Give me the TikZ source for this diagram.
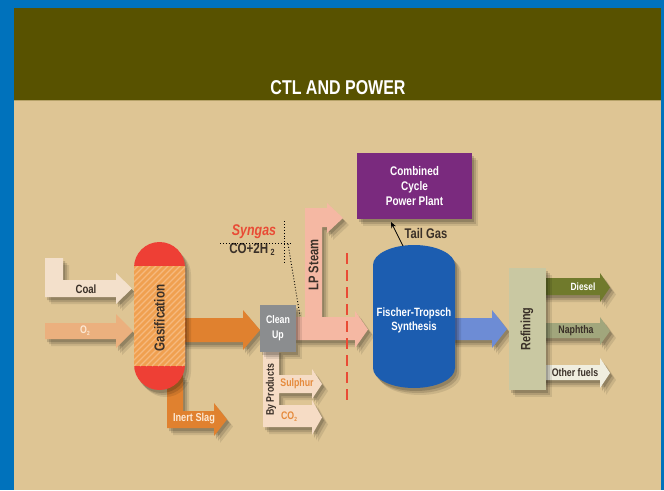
\documentclass[tikz,border=0pt]{standalone}
\usepackage{fontspec}
\setmainfont{Liberation Sans}[FakeStretch=0.8]
\usetikzlibrary{shadows,arrows.meta}
\definecolor{frameblue}{HTML}{0072BC}
\definecolor{olive}{HTML}{585200}
\definecolor{beige}{HTML}{DEC594}
\definecolor{coalc}{HTML}{F3E0CB}
\definecolor{oxyc}{HTML}{EBB07E}
\definecolor{gasred}{HTML}{EE3F35}
\definecolor{gasorange}{HTML}{F0A050}
\definecolor{stripe}{HTML}{F6B97E}
\definecolor{orangearr}{HTML}{E0812F}
\definecolor{cleangray}{HTML}{8B8D8F}
\definecolor{pinkarr}{HTML}{F5B8A3}
\definecolor{byprod}{HTML}{F6DCC5}
\definecolor{bytext}{HTML}{E58A3C}
\definecolor{ccpp}{HTML}{7A2A7E}
\definecolor{ftblue}{HTML}{1C5DB0}
\definecolor{bluearr}{HTML}{6D8CD5}
\definecolor{refin}{HTML}{C9C8A2}
\definecolor{dieselc}{HTML}{707A2C}
\definecolor{naphc}{HTML}{A1A67C}
\definecolor{otherc}{HTML}{F0EEDF}
\definecolor{redline}{HTML}{E94B35}
\definecolor{darktext}{HTML}{3A3028}
\definecolor{creamtext}{HTML}{FCE8D3}
\newcommand\fs[1]{\fontsize{#1}{#1}\selectfont\bfseries}
\newcommand\fsl[2]{\fontsize{#1}{#2}\selectfont\bfseries}
\newcommand\hArrow[8]{\fill[#1,sh] (#2,#5) -- (#3,#5) -- (#3,#7) -- (#4,{(#7+#8)/2}) -- (#3,#8) -- (#3,#6) -- (#2,#6) -- cycle;}
\tikzset{
  sh/.style={drop shadow={opacity=.16,shadow xshift=2pt,shadow yshift=-3pt,fill=black},
             drop shadow={opacity=.13,shadow xshift=4pt,shadow yshift=-5pt,fill=black},
             drop shadow={opacity=.09,shadow xshift=6pt,shadow yshift=-7pt,fill=black}},
  lab/.style={inner sep=0pt,text=darktext},
  wlab/.style={inner sep=0pt,text=white,align=center},
  dots/.style={black,dotted,line width=0.9pt}
}
\begin{document}
\begin{tikzpicture}[x=1pt,y=-1pt]
\useasboundingbox (0,0) rectangle (664,490);
% frame and background
\fill[frameblue] (0,0) rectangle (664,490);
\fill[olive] (14,8) rectangle (661,100);
\fill[beige] (14,100) rectangle (661,490);
\draw[color=beige!70!olive,line width=1pt] (14,100) -- (661,100);
\node[wlab,font=\fs{20}] (title) at (338,87.5) {CTL AND POWER};

% input arrows
\fill[coalc,sh] (45,258) -- (63,258) -- (63,280) -- (116,280) -- (116,273) -- (132,288.5) -- (116,304) -- (116,297) -- (45,297) -- cycle;
\hArrow{oxyc}{45}{116}{133}{323}{339}{314}{348}
% gasification -> clean up
\hArrow{orangearr}{180}{243}{260}{318}{342}{310}{350}
% inert slag
\fill[orangearr,sh] (167,375) -- (183,375) -- (183,411) -- (214,411) -- (214,403) -- (227,419.5) -- (214,436) -- (214,428) -- (167,428) -- cycle;

% gasification vessel
\fill[gasred,sh,rounded corners=25.5pt] (134,242) rectangle (185,390);
\begin{scope}
  \clip (134,266) rectangle (185,366);
  \fill[gasorange] (134,266) rectangle (185,366);
  \foreach \i in {20,26,...,200} \draw[stripe,line width=1.3pt] (\i,366) -- ++(110,-110);
\end{scope}
\node[lab,rotate=90,font=\fs{14.5}] (gas) at (159.5,318) {Gasification};
\node[lab,font=\fs{12}] (coal) at (86,289) {Coal};
\node[lab,text=creamtext,font=\fs{11}] (oxy) at (85,331) {O\raisebox{-0.35ex}{\fontsize{6}{6}\selectfont 2}};
\node[lab,text=creamtext,font=\fs{11.5}] (slag) at (194,419) {Inert Slag};

% by products
\fill[byprod,sh] (263,350) -- (279,350) -- (279,375) -- (312,375) -- (312,369) -- (322,384) -- (312,399) -- (312,393) -- (279,393) -- (279,405) -- (312,405) -- (312,400) -- (322,417.5) -- (312,435) -- (312,427) -- (263,427) -- cycle;
\node[lab,rotate=90,font=\fs{11}] (byp) at (271,390) {By Products};
\node[lab,text=bytext,font=\fs{11}] (sulphur) at (297,384) {Sulphur};
\node[lab,text=bytext,font=\fs{11}] (co2) at (289,417) {CO\raisebox{-0.35ex}{\fontsize{6}{6}\selectfont 2}};

% pink syngas arrow and LP steam
\hArrow{pinkarr}{294}{355}{368}{317}{340}{311}{348}
\fill[pinkarr,sh] (305,318) -- (305,208) -- (327,208) -- (327,203) -- (343,218) -- (327,233) -- (327,227) -- (322,227) -- (322,318) -- cycle;
\fill[pinkarr] (300,317) rectangle (330,340);
\node[lab,rotate=90,font=\fs{14}] (lp) at (313.5,265) {LP Steam};

% clean up
\node[fill=cleangray,minimum width=36pt,minimum height=47pt,inner sep=0pt,sh] (clean) at (278,328.5) {};
\node[wlab,font=\fsl{11}{15}] (cleantext) at (clean.center) {Clean\\Up};

% syngas annotation
\node[lab,text=redline,font=\fontsize{15.5}{15.5}\selectfont\bfseries\itshape] (syngas) at (254,232) {Syngas};
\node[lab,font=\fs{14.5}] (co) at (252,249.5) {CO+2H\,\raisebox{-0.35ex}{\fontsize{9}{9}\selectfont 2}};
\coordinate (d1) at (220,243);
\coordinate (d2) at (290,243);
\coordinate (d3) at (284,221);
\coordinate (d4) at (284,264);
\coordinate (d5) at (288,244);
\coordinate (d6) at (300,316);
\draw[dots] (d1) -- (d2);
\draw[dots] (d3) -- (d4);
\draw[dots] (d5) -- (d6);

% red dashed line
\coordinate (r1) at (347,253);
\coordinate (r2) at (347,402);
\draw[redline,line width=2pt,dash pattern=on 11pt off 6pt] (r1) -- (r2);

% FT -> refining arrow
\hArrow{bluearr}{450}{492}{507}{318}{340}{310}{348}

% Fischer-Tropsch vessel
\fill[ftblue,sh] (373,265) arc[start angle=180,end angle=360,x radius=41,y radius=20] -- (455,368) arc[start angle=0,end angle=180,x radius=41,y radius=20] -- cycle;
\node[wlab,font=\fsl{12}{14}] (ft) at (414,320) {Fischer-Tropsch\\Synthesis};
\coordinate (ftTop) at (403,246);

% combined cycle
\node[fill=ccpp,minimum width=115pt,minimum height=66pt,inner sep=0pt,sh] (cc) at (414.5,186) {};
\node[wlab,font=\fsl{12.5}{15}] (cctext) at (cc.center) {Combined\\Cycle\\Power Plant};
\coordinate (ccIn) at (391,222);
\draw[black,line width=0.8pt,-{Stealth[length=6pt,width=5pt]}] (ftTop) -- (ccIn);
\node[lab,font=\fs{14}] (tail) at (426,233) {Tail Gas};

% refining and products
\hArrow{dieselc}{540}{600}{610}{278}{295}{273}{302}
\hArrow{naphc}{540}{600}{610}{323}{338}{317}{345}
\hArrow{otherc}{540}{600}{610}{365}{380}{358}{388}
\node[fill=refin,minimum width=37pt,minimum height=122pt,inner sep=0pt,sh] (ref) at (527,329) {};
\node[lab,rotate=90,font=\fs{13.5}] (reftext) at (ref.center) {Refining};
\node[wlab,font=\fs{10.5}] (diesel) at (583,287) {Diesel};
\node[lab,font=\fs{11}] (naphtha) at (576,331) {Naphtha};
\node[lab,font=\fs{11}] (other) at (575,373) {Other fuels};
\end{tikzpicture}
\end{document}
